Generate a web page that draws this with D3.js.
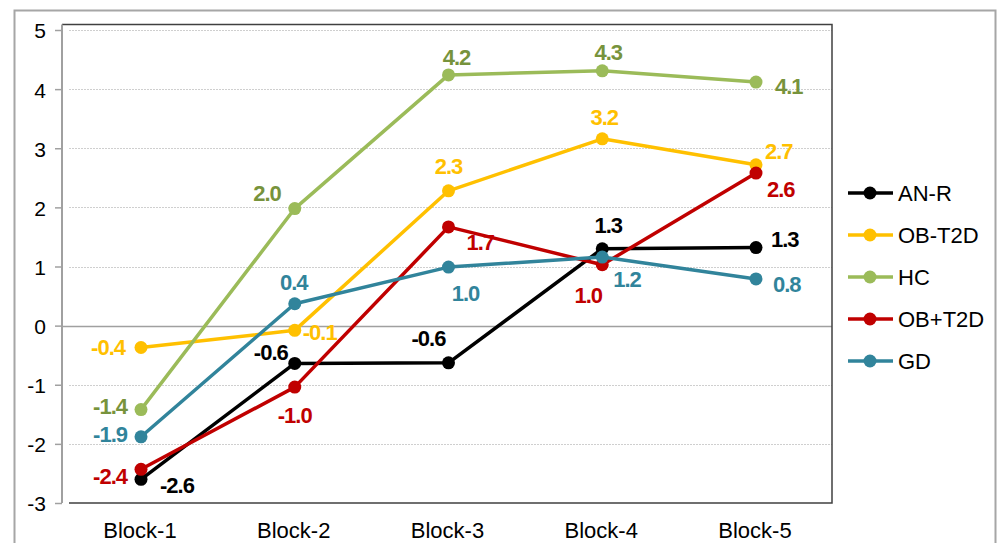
<!DOCTYPE html>
<html>
<head>
<meta charset="utf-8">
<script src="https://cdn.jsdelivr.net/npm/d3@7"></script>
<style>
  body { margin: 0; background: #fff; }
  svg { display: block; }
  .tick-label { font-family: "Liberation Sans", Arial, sans-serif; font-size: 21px; fill: #000; }
  .cat-label { font-family: "Liberation Sans", Arial, sans-serif; font-size: 22px; fill: #000; }
  .legend-label { font-family: "Liberation Sans", Arial, sans-serif; font-size: 22px; fill: #000; }
  .value-label { font-family: "Liberation Sans Narrow", "Arial Narrow", "Liberation Sans", sans-serif; font-size: 22px; font-weight: bold; letter-spacing: -1px; }
</style>
</head>
<body>
<div class="chart"></div>
<script>
const categories = ["Block-1", "Block-2", "Block-3", "Block-4", "Block-5"];
const seriesNames = ["AN-R", "OB-T2D", "HC", "OB+T2D", "GD"];

const anR = [-2.6, -0.64, -0.63, 1.3, 1.32];
const obT2d = [-0.37, -0.08, 2.28, 3.16, 2.72];
const hc = [-1.42, 1.98, 4.24, 4.31, 4.12];
const obPlusT2d = [-2.43, -1.04, 1.67, 1.03, 2.58];
const gd = [-1.88, 0.37, 0.99, 1.16, 0.79];

const yTicks = [-3, -2, -1, 0, 1, 2, 3, 4, 5];

const lineColors = ["#000000", "#FFC000", "#9BBB59", "#C00000", "#31849B"];
const labelColors = ["#000000", "#FFC000", "#77933C", "#C00000", "#31849B"];

// label placement per series / point: [anchor, dx, dy]
const labelOffsets = [
  [["middle", 36, 14], ["end", -7, -3], ["middle", -20, -17], ["middle", 6, -16], ["start", 15, -1]],
  [["end", -16, 7], ["start", 8, 10], ["middle", 0, -17], ["middle", 2, -14], ["start", 9, -6]],
  [["end", -14, 4], ["end", -14, -8], ["middle", 8, -10], ["middle", 6, -11], ["start", 19, 12]],
  [["end", -14, 15], ["middle", 0, 36], ["start", 18, 23], ["middle", -14, 38], ["start", 11, 24]],
  [["end", -14, 5], ["middle", -1, -14], ["middle", 17, 34], ["start", 11, 30], ["start", 17, 13]]
];

const allSeries = [anR, obT2d, hc, obPlusT2d, gd];

const width = 998, height = 543;
const plot = { left: 62, right: 832, top: 24.5, bottom: 503 };

const svg = d3.select("div.chart").append("svg")
  .attr("width", width)
  .attr("height", height);

// outer chart frame
svg.append("path")
  .attr("d", `M14.5,${height} V10.5 H995.5 V${height}`)
  .attr("fill", "none")
  .attr("stroke", "#a6a6a6")
  .attr("stroke-width", 2);

const x = d3.scalePoint()
  .domain(categories)
  .range([141, 756]);

const y = d3.scaleLinear()
  .domain([-3, 5])
  .range([503, 30]);

// gridlines
svg.append("g")
  .selectAll("line")
  .data(yTicks.filter(t => t !== 0 && t !== -3))
  .enter()
  .append("line")
  .attr("x1", plot.left + 7)
  .attr("x2", plot.right)
  .attr("y1", d => Math.round(y(d)) + 0.5)
  .attr("y2", d => Math.round(y(d)) + 0.5)
  .attr("stroke", "#cfcfcf")
  .attr("stroke-width", 1)
  .attr("stroke-dasharray", "2,1");

// zero line
svg.append("line")
  .attr("x1", plot.left)
  .attr("x2", plot.right)
  .attr("y1", Math.round(y(0)) + 0.5)
  .attr("y2", Math.round(y(0)) + 0.5)
  .attr("stroke", "#a0a0a0")
  .attr("stroke-width", 1.5);

// plot frame (top, right, bottom)
svg.append("path")
  .attr("d", `M${plot.left},${plot.top} H${plot.right} V${plot.bottom} H${plot.left + 7}`)
  .attr("fill", "none")
  .attr("stroke", "#404040")
  .attr("stroke-width", 1.5);

// y axis
const yAxis = d3.axisLeft(y)
  .tickValues(yTicks)
  .tickSize(7)
  .tickPadding(9)
  .tickFormat(d => String(d));

const yAxisG = svg.append("g")
  .attr("transform", `translate(${plot.left},0)`)
  .call(yAxis);
yAxisG.select(".domain")
  .attr("d", `M0,${plot.top}V${plot.bottom}`)
  .attr("stroke", "#a0a0a0")
  .attr("stroke-width", 2);
yAxisG.selectAll(".tick line").attr("stroke", "#a0a0a0").attr("stroke-width", 1.5);
yAxisG.selectAll(".tick text")
  .attr("class", "tick-label")
  .attr("dy", "0.38em");

// x axis labels
svg.append("g")
  .selectAll("text")
  .data(categories)
  .enter()
  .append("text")
  .attr("class", "cat-label")
  .attr("x", d => x(d) - 1)
  .attr("y", 538)
  .attr("text-anchor", "middle")
  .text(d => d);

// series lines
const line = d3.line()
  .x((d, i) => x(categories[i]))
  .y(d => y(d));

const seriesG = svg.append("g")
  .selectAll("g")
  .data(allSeries)
  .enter()
  .append("g");

seriesG.append("path")
  .attr("d", d => line(d))
  .attr("fill", "none")
  .attr("stroke", (d, i) => lineColors[i])
  .attr("stroke-width", 3.5)
  .attr("stroke-linejoin", "round");

seriesG.each(function (values, si) {
  const g = d3.select(this);
  g.selectAll("circle")
    .data(values)
    .enter()
    .append("circle")
    .attr("cx", (d, i) => x(categories[i]))
    .attr("cy", d => y(d))
    .attr("r", 6.5)
    .attr("fill", lineColors[si]);
});

// value labels on top
seriesG.each(function (values, si) {
  const g = d3.select(this);
  g.selectAll("text")
    .data(values)
    .enter()
    .append("text")
    .attr("class", "value-label")
    .attr("fill", labelColors[si])
    .attr("text-anchor", (d, i) => labelOffsets[si][i][0])
    .attr("x", (d, i) => x(categories[i]) + labelOffsets[si][i][1])
    .attr("y", (d, i) => y(d) + labelOffsets[si][i][2])
    .text(d => d3.format(".1f")(d).replace("−", "-"));
});

// legend
const legend = svg.append("g")
  .selectAll("g")
  .data(seriesNames)
  .enter()
  .append("g")
  .attr("transform", (d, i) => `translate(848,${193 + i * 42})`);

legend.append("line")
  .attr("x1", 0)
  .attr("x2", 45)
  .attr("stroke", (d, i) => lineColors[i])
  .attr("stroke-width", 3.5);

legend.append("circle")
  .attr("cx", 22)
  .attr("r", 6.5)
  .attr("fill", (d, i) => lineColors[i]);

legend.append("text")
  .attr("class", "legend-label")
  .attr("x", 50)
  .attr("y", 8)
  .text(d => d);
</script>
</body>
</html>
